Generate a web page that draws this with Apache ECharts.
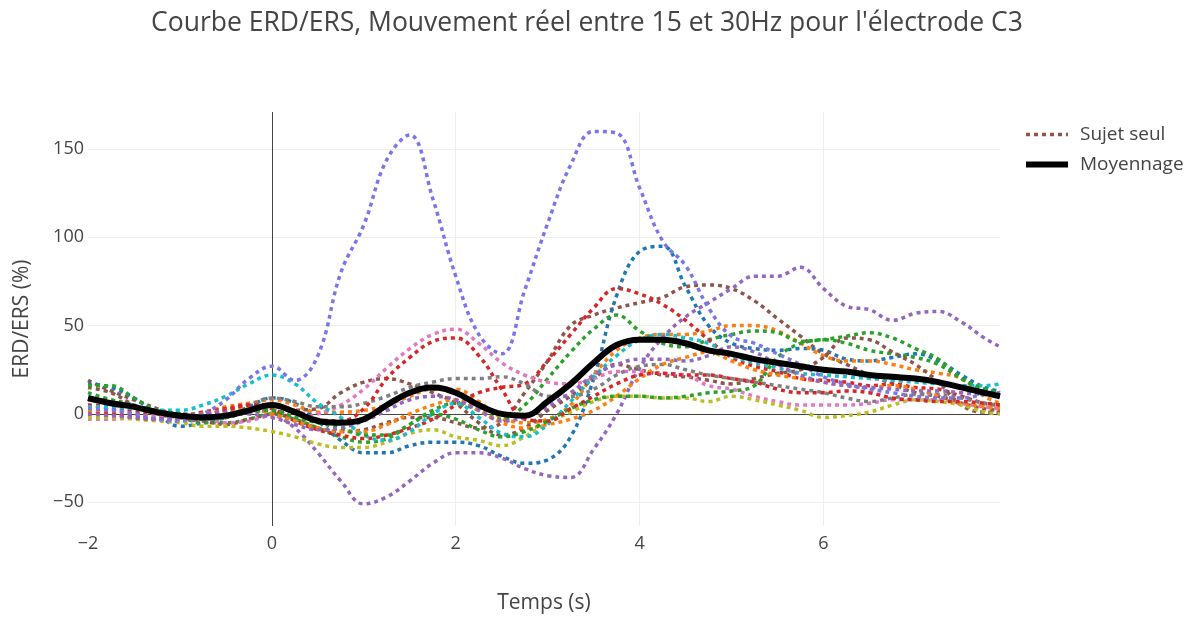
<!DOCTYPE html>
<html>
<head>
<meta charset="utf-8">
<script src="https://cdn.jsdelivr.net/npm/echarts@6/dist/echarts.min.js"></script>
<style>
  html, body { margin: 0; background: #fff; }
  #main { width: 1191px; height: 619px; }
</style>
</head>
<body>
<div id="main"></div>
<script>
// time axis (s)
const times = [-2, -1.75, -1.5, -1.25, -1, -0.75, -0.5, -0.25, 0, 0.25, 0.5, 0.75, 1, 1.25, 1.5, 1.75, 2, 2.25, 2.5, 2.75, 3, 3.25, 3.5, 3.75, 4, 4.25, 4.5, 4.75, 5, 5.25, 5.5, 5.75, 6, 6.25, 6.5, 6.75, 7, 7.25, 7.5, 7.75, 7.92];

// one curve per subject (ERD/ERS %)
const brown1 = [19, 13, 8, 3, -1, -3, -2, 1, 2, -3, -8, -10, -9, -5, -2, -2, -5, -8, -5, 12, 30, 50, 56, 60, 63, 66, 72, 73, 71, 64, 54, 44, 34, 28, 22, 17, 12, 10, 6, 3, 2];
const brown2 = [15, 12, 5, 0, -2, -4, -6, -3, 0, 2, 3, 12, 18, 20, 17, 12, 6, -5, -12, -8, 2, 10, 20, 28, 25, 22, 21, 19, 17, 20, 23, 25, 32, 43, 42, 35, 28, 18, 5, 1, 1];
const blue1 = [17, 15, 9, 0, -7, -5, -2, 4, 9, 6, -4, -15, -22, -22, -18, -16, -16, -18, -24, -28, -26, -13, 20, 67, 92, 95, 72, 50, 40, 37, 36, 37, 36, 31, 30, 32, 34, 30, 22, 15, 13];
const orange1 = [5, 3, 1, 0, -1, 1, 4, 6, 8, 5, 1, 1, 2, 5, 10, 14, 14, 7, -2, -5, -3, 5, 22, 36, 43, 45, 45, 47, 50, 50, 47, 40, 33, 30, 30, 28, 25, 23, 20, 10, 6];
const green1 = [12, 8, 5, 0, -2, -5, -5, -3, 0, -3, -8, -13, -16, -14, -6, 2, 6, 2, -3, 5, 20, 35, 48, 56, 47, 40, 38, 42, 45, 47, 46, 41, 42, 40, 36, 34, 32, 28, 20, 14, 12];
const red1 = [5, 4, 2, 0, -1, 1, 3, 5, 3, -4, -9, -12, -14, -12, -8, -3, 5, 12, 15, 17, 30, 45, 60, 71, 68, 62, 53, 42, 32, 27, 24, 20, 19, 18, 16, 17, 15, 14, 10, 6, 5];
const purple1 = [2, 2, 0, -3, -4, -3, 0, 2, 0, -8, -22, -38, -51, -47, -38, -28, -22, -22, -25, -31, -35, -36, -20, 0, 26, 43, 55, 63, 71, 78, 78, 83, 71, 61, 59, 53, 57, 58, 52, 43, 38];
const pink1 = [-3, -3, -2, -1, 0, -2, -5, -4, -1, -3, 0, 5, 14, 26, 37, 45, 48, 40, 29, 22, 18, 17, 20, 24, 24, 23, 22, 16, 14, 10, 7, 5, 5, 5, 6, 8, 8, 8, 6, 4, 3];
const gray1 = [8, 6, 4, 2, 0, 0, 2, 5, 9, 7, 4, 4, 6, 10, 15, 18, 20, 20, 21, 17, 10, 10, 14, 22, 27, 28, 25, 22, 20, 18, 16, 14, 12, 9, 7, 9, 11, 11, 9, 6, 5];
const olive1 = [-2, -2, -3, -4, -5, -7, -7, -8, -10, -13, -17, -19, -19, -16, -11, -9, -13, -15, -18, -13, -5, 1, 7, 10, 10, 9, 9, 7, 10, 8, 5, 2, -2, -1, 1, 5, 8, 7, 5, 1, 0];
const cyan1 = [4, 4, 3, 2, 2, 5, 10, 17, 22, 17, 6, -2, -12, -15, -10, 0, 6, -2, -11, -13, -6, 7, 21, 33, 42, 45, 43, 40, 33, 29, 26, 23, 22, 21, 20, 19, 18, 17, 16, 16, 17];
const orange2 = [2, 0, -2, -3, -2, 0, 2, 3, 0, -4, -8, -10, -10, -6, 0, 5, 8, 2, -5, -8, -6, -3, 2, 10, 20, 28, 32, 35, 30, 25, 22, 20, 18, 16, 15, 16, 14, 10, 6, 4, 3];
const green2 = [16, 16, 9, 2, 0, -3, -2, 1, 2, -2, -5, -8, -12, -12, -6, 0, -3, -9, -13, -10, -4, 3, 8, 10, 10, 9, 10, 12, 13, 16, 32, 40, 42, 44, 46, 43, 37, 31, 20, 14, 12];
const red2 = [0, 0, -2, -3, -3, -1, 2, 5, 5, 2, -3, -4, 3, 20, 32, 41, 43, 33, 14, -3, -4, 3, 10, 17, 22, 23, 22, 22, 20, 18, 14, 12, 12, 13, 12, 9, 8, 7, 7, 6, 5];
const purple2 = [0, -1, -2, -3, -2, 0, 1, 0, -2, -6, -9, -8, -4, 2, 8, 10, 8, 2, -4, -2, 4, 12, 22, 28, 31, 31, 30, 33, 38, 35, 28, 22, 18, 16, 15, 14, 13, 13, 12, 11, 10];
const slate1 = [3, 2, 0, -3, -4, 0, 8, 20, 27, 19, 33, 80, 107, 144, 158, 122, 78, 45, 34, 70, 108, 141, 160, 159, 128, 98, 84, 60, 44, 40, 34, 28, 21, 17, 14, 12, 10, 9, 9, 11, 12];

// average curve
const moyenne = [9, 6, 4, 1, -1, -2, -1, 2, 5, 1, -4, -5, -3, 5, 12, 15, 12, 5, 0, -1, 7, 17, 29, 39, 42, 42, 40, 36, 34, 31, 29, 27, 25, 24, 22, 21, 20, 18, 15, 12, 10];

const subjects = [
  [brown1, '#8c564b'],
  [blue1, '#1f77b4'],
  [orange1, '#ff7f0e'],
  [green1, '#2ca02c'],
  [red1, '#d62728'],
  [purple1, '#9467bd'],
  [brown2, '#8c564b'],
  [pink1, '#e377c2'],
  [gray1, '#7f7f7f'],
  [olive1, '#bcbd22'],
  [cyan1, '#17becf'],
  [orange2, '#ff7f0e'],
  [green2, '#2ca02c'],
  [red2, '#d62728'],
  [purple2, '#9467bd'],
  [slate1, '#7a76e6'],
];

const main = document.getElementById('main');
const myChart = echarts.init(main);

const minus = (v) => String(v).replace('-', '\u2212');
const pairs = (vals) => times.map((t, i) => [t, vals[i]]);

const series = subjects.map(([vals, color]) => ({
  name: 'Sujet seul',
  type: 'line',
  data: pairs(vals),
  smooth: 0.4,
  symbol: 'none',
  showSymbol: false,
  color: color,
  lineStyle: { width: 3.5, type: [4, 4], color: color },
  z: 2,
  silent: true,
}));

// zero lines (drawn under the curves)
series[0].markLine = {
  silent: true,
  symbol: ['none', 'none'],
  label: { show: false },
  lineStyle: { color: '#444', width: 1, type: 'solid' },
  data: [{ xAxis: 0 }, { yAxis: 0 }],
  z: 1,
};

series.push({
  name: 'Moyennage',
  type: 'line',
  data: pairs(moyenne),
  smooth: 0.4,
  symbol: 'none',
  showSymbol: false,
  color: '#000',
  lineStyle: { width: 6, color: '#000' },
  z: 3,
  silent: true,
});

const option = {
  animation: false,
  textStyle: { fontFamily: 'Open Sans' },
  title: {
    text: "Courbe ERD/ERS, Mouvement réel entre 15 et 30Hz pour l'électrode C3",
    left: 146,
    top: 5,
    textStyle: { fontSize: 26.5, fontWeight: 'normal', color: '#444' },
  },
  legend: {
    orient: 'vertical',
    left: 1018,
    top: 120,
    itemWidth: 42,
    itemHeight: 16,
    itemGap: 11,
    itemStyle: { opacity: 0 },
    data: [
      { name: 'Sujet seul', lineStyle: { width: 3.5 } },
      { name: 'Moyennage', lineStyle: { width: 6 } },
    ],
    textStyle: { fontSize: 19, color: '#444', padding: [0, 0, 0, 7] },
  },
  grid: { left: 88, right: 191, top: 112, bottom: 89 },
  xAxis: {
    type: 'value',
    min: -2,
    max: 7.92,
    interval: 2,
    name: 'Temps (s)',
    nameLocation: 'middle',
    nameGap: 67,
    nameTextStyle: { fontSize: 21, color: '#444' },
    axisLine: { show: false },
    axisTick: { show: false },
    axisLabel: { fontSize: 18, color: '#444', margin: 9, showMaxLabel: false, formatter: minus },
    splitLine: { show: true, showMinLine: false, showMaxLine: false, lineStyle: { color: '#eee', width: 1 } },
  },
  yAxis: {
    type: 'value',
    min: -63.5,
    max: 171,
    name: 'ERD/ERS (%)',
    nameLocation: 'middle',
    nameGap: 55,
    nameTextStyle: { fontSize: 21, color: '#444' },
    axisLine: { show: false },
    axisTick: { show: false },
    axisLabel: { fontSize: 18, color: '#444', margin: 4, showMinLabel: false, showMaxLabel: false, formatter: minus },
    splitLine: { show: true, showMinLine: false, showMaxLine: false, lineStyle: { color: '#eee', width: 1 } },
  },
  series: series,
};

myChart.setOption(option);
</script>
</body>
</html>
